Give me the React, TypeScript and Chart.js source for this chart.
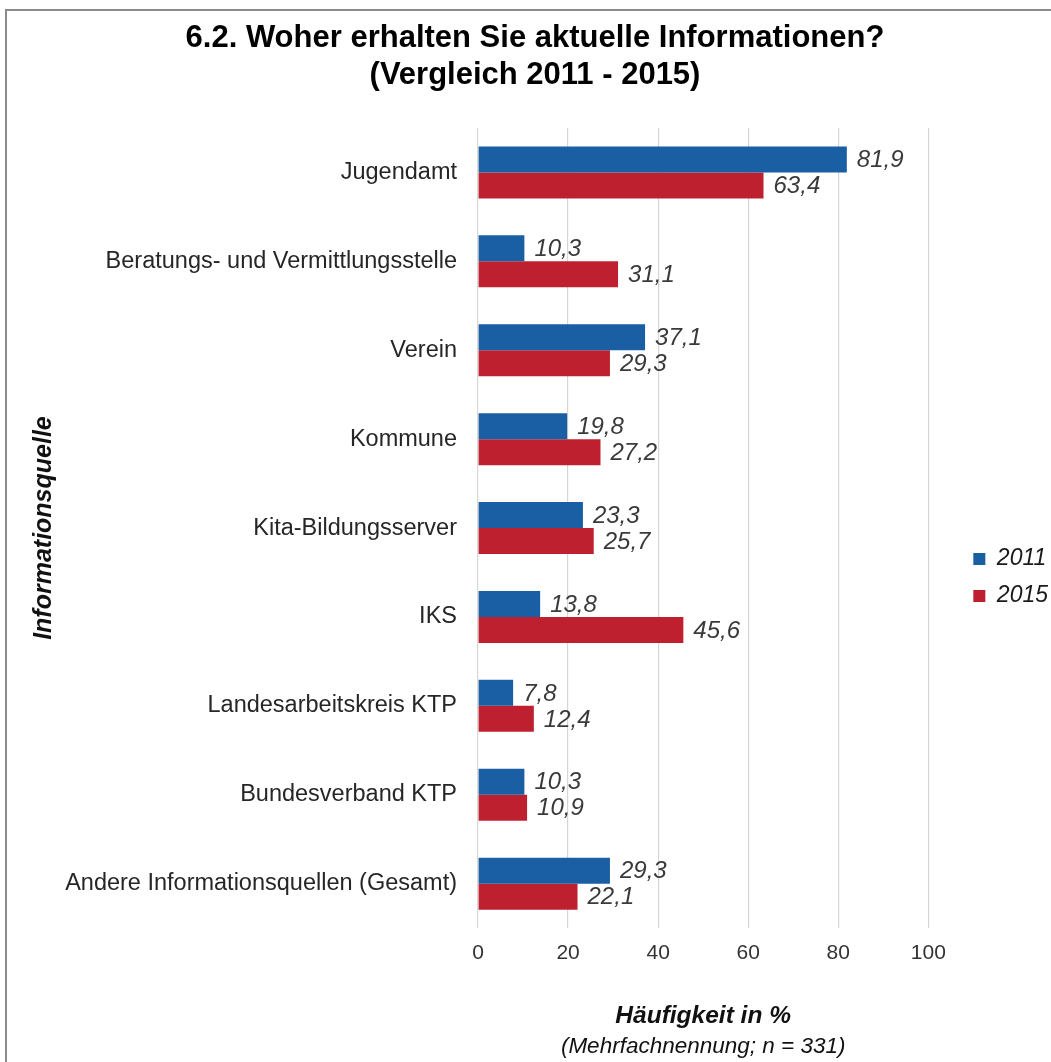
import React, { useEffect, useRef } from "react";
import { Chart, registerables } from "chart.js";

Chart.register(...registerables);

const categories = [
  "Jugendamt",
  "Beratungs- und Vermittlungsstelle",
  "Verein",
  "Kommune",
  "Kita-Bildungsserver",
  "IKS",
  "Landesarbeitskreis KTP",
  "Bundesverband KTP",
  "Andere Informationsquellen (Gesamt)",
];
const values2011 = [81.9, 10.3, 37.1, 19.8, 23.3, 13.8, 7.8, 10.3, 29.3];
const values2015 = [63.4, 31.1, 29.3, 27.2, 25.7, 45.6, 12.4, 10.9, 22.1];
const seriesLabels = ["2011", "2015"];
const xTickValues = [0, 20, 40, 60, 80, 100];

const titleLines = ["6.2. Woher erhalten Sie aktuelle Informationen?", "(Vergleich 2011 - 2015)"];
const xTitle = "Häufigkeit in %";
const xSubTitle = "(Mehrfachnennung; n = 331)";
const yTitle = "Informationsquelle";

const FONT = "'Liberation Sans', Arial, Helvetica, sans-serif";
const BLUE = "#1a5fa3";
const RED = "#be2030";

const valueLabelPlugin = {
  id: "valueLabels",
  afterDatasetsDraw(chart: any) {
    const ctx = chart.ctx;
    ctx.save();
    ctx.font = `italic 24px ${FONT}`;
    ctx.fillStyle = "#3a3a3a";
    ctx.textAlign = "left";
    ctx.textBaseline = "middle";
    chart.data.datasets.forEach((ds: any, i: number) => {
      const meta = chart.getDatasetMeta(i);
      if (meta.hidden) return;
      meta.data.forEach((bar: any, j: number) => {
        const v = ds.data[j];
        ctx.fillText(v.toFixed(1).replace(".", ","), bar.x + 10, bar.y + 1);
      });
    });
    ctx.restore();
  },
};

export default function App() {
  const canvasRef = useRef<HTMLCanvasElement | null>(null);

  useEffect(() => {
    if (!canvasRef.current) return;
    const chart = new Chart(canvasRef.current, {
      type: "bar",
      data: {
        labels: categories,
        datasets: [
          {
            label: seriesLabels[0],
            data: values2011,
            backgroundColor: BLUE,
            borderWidth: 0,
            categoryPercentage: 0.585,
            barPercentage: 1.0,
          },
          {
            label: seriesLabels[1],
            data: values2015,
            backgroundColor: RED,
            borderWidth: 0,
            categoryPercentage: 0.585,
            barPercentage: 1.0,
          },
        ],
      },
      options: {
        indexAxis: "y",
        responsive: false,
        animation: false,
        devicePixelRatio: 1,
        layout: { padding: { left: 12, right: 0, top: 0, bottom: 0 } },
        scales: {
          x: {
            type: "linear",
            position: "bottom",
            min: xTickValues[0],
            max: xTickValues[xTickValues.length - 1],
            afterBuildTicks: (s: any) => {
              s.ticks = xTickValues.map((v) => ({ value: v }));
            },
            grid: {
              display: true,
              color: "#d6d6d6",
              lineWidth: 1.2,
              drawTicks: false,
            },
            border: { display: false },
            ticks: {
              color: "#333333",
              padding: 12.4,
              font: { family: FONT, size: 21 },
            },
            title: {
              display: true,
              text: xTitle,
              color: "#111111",
              font: { family: FONT, size: 24.5, weight: "bold", style: "italic" },
              padding: { top: 23, bottom: 3 },
            },
          },
          y: {
            type: "category",
            position: "left",
            grid: { display: false },
            border: { display: false },
            ticks: {
              color: "#262626",
              padding: 13,
              font: { family: FONT, size: 23.5 },
            },
            title: {
              display: true,
              text: yTitle,
              color: "#111111",
              font: { family: FONT, size: 25, weight: "bold", style: "italic" },
              padding: { top: 17.5, bottom: 0 },
            },
            afterFit: (s: any) => {
              s.width = 466;
            },
          },
          gap: {
            type: "linear",
            position: "right",
            display: true,
            weight: 0,
            grid: { display: false },
            border: { display: false },
            ticks: { display: false },
            afterFit: (s: any) => {
              s.width = 31;
            },
          },
        },
        plugins: {
          title: {
            display: true,
            text: titleLines,
            color: "#000000",
            font: { family: FONT, size: 31, weight: "bold", lineHeight: 1.2 },
            padding: { top: 19.4, bottom: 34.2 },
          },
          subtitle: {
            display: true,
            text: xSubTitle,
            position: "bottom",
            fullSize: false,
            color: "#111111",
            font: { family: FONT, size: 22.5, style: "italic", lineHeight: 1.2 },
            padding: { top: 0, bottom: 1.5 },
          },
          legend: {
            display: true,
            position: "right",
            align: "start",
            title: {
              display: true,
              text: "",
              font: { family: FONT, size: 12 },
              padding: { top: 519, bottom: 0 },
            },
            labels: {
              boxWidth: 12,
              boxHeight: 12,
              padding: 14,
              color: "#1a1a1a",
              font: { family: FONT, size: 23, style: "italic" },
            },
          },
          tooltip: { enabled: false },
        },
      } as any,
      plugins: [valueLabelPlugin],
    });
    return () => chart.destroy();
  }, []);

  return (
    <div
      style={{
        position: "absolute",
        left: 0,
        top: 0,
        width: 1051,
        height: 1062,
        overflow: "hidden",
        background: "#ffffff",
      }}
    >
      <div
        style={{
          position: "absolute",
          left: 5,
          top: 9,
          width: 1200,
          height: 1200,
          borderTop: "2px solid #8a8a8a",
          borderLeft: "2px solid #8a8a8a",
        }}
      />
      <canvas
        ref={canvasRef}
        width={1058}
        height={1062}
        style={{ position: "absolute", left: 0, top: 0, width: 1058, height: 1062 }}
      />
    </div>
  );
}
